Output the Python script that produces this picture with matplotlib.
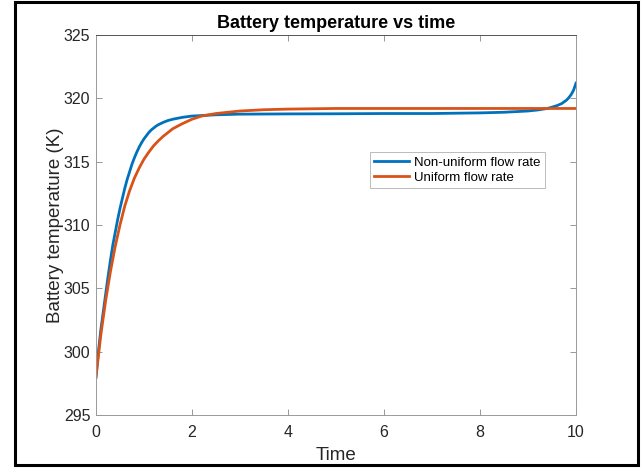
import matplotlib
matplotlib.use('Agg')
import matplotlib.pyplot as plt
from matplotlib.patches import Rectangle

plt.rcParams['font.family'] = ['Liberation Sans', 'DejaVu Sans']

# values
t_nonuni = [0, 0.05, 0.1, 0.15, 0.2, 0.25, 0.3, 0.35, 0.4, 0.45, 0.5, 0.55, 0.6,
            0.65, 0.7, 0.75, 0.8, 0.85, 0.9, 0.95, 1.0, 1.05, 1.1, 1.15, 1.2,
            1.25, 1.3, 1.4, 1.5, 1.6, 1.8, 2.0, 2.5, 3, 4, 5, 6, 7, 8, 8.5, 9,
            9.2, 9.4, 9.5, 9.6, 9.7, 9.8, 9.85, 9.9, 9.95, 10]
T_nonuni = [298.0, 300.0, 301.7, 303.1, 304.5, 305.9, 307.2, 308.4, 309.4, 310.4,
            311.3, 312.1, 312.9, 313.6, 314.2, 314.8, 315.3, 315.75, 316.15, 316.5,
            316.8, 317.05, 317.3, 317.5, 317.65, 317.8, 317.92, 318.1, 318.25,
            318.35, 318.5, 318.6, 318.7, 318.75, 318.77, 318.78, 318.8, 318.8,
            318.85, 318.9, 319.0, 319.08, 319.2, 319.3, 319.42, 319.58, 319.85,
            320.05, 320.3, 320.65, 321.2]

t_uni = [0, 0.1, 0.2, 0.3, 0.4, 0.5, 0.6, 0.7, 0.8, 0.9, 1.0, 1.1, 1.2, 1.3, 1.4,
         1.5, 1.6, 1.8, 2.0, 2.2, 2.5, 3, 3.5, 4, 5, 10]
T_uni = [298.0, 301.3, 304.0, 306.3, 308.3, 310.0, 311.5, 312.7, 313.7, 314.5,
         315.2, 315.75, 316.25, 316.65, 317.0, 317.3, 317.6, 318.0, 318.35, 318.6,
         318.8, 319.0, 319.1, 319.15, 319.2, 319.2]

labels = ['Non-uniform flow rate', 'Uniform flow rate']
colors = ['#0072BD', '#D95319']
xticks = [0, 2, 4, 6, 8, 10]
yticks = [295, 300, 305, 310, 315, 320, 325]

fig = plt.figure(figsize=(6.42, 4.69), dpi=100)
ax = fig.add_axes([0.1495, 0.1151, 0.7477, 0.8103])

ax.plot(t_nonuni, T_nonuni, color=colors[0], linewidth=2, label=labels[0],
        solid_joinstyle='round')
ax.plot(t_uni, T_uni, color=colors[1], linewidth=2, label=labels[1],
        solid_joinstyle='round')

ax.set_xlim(0, 10)
ax.set_ylim(295, 325)
ax.set_xticks(xticks)
ax.set_yticks(yticks)
ax.tick_params(direction='in', top=True, right=True, length=4, width=0.6,
               color='#888888', labelsize=11.5, labelcolor='#262626')
ax.tick_params(axis='x', pad=7)
ax.tick_params(axis='y', pad=4)
for s in ax.spines.values():
    s.set_color('#999999')
    s.set_linewidth(0.7)
ax.spines['top'].set_color('#555555')

ax.set_xlabel('Time', fontsize=13.5, color='#262626', labelpad=5)
ax.set_ylabel('Battery temperature (K)', fontsize=13.5, color='#262626', labelpad=0)
ax.set_title('Battery temperature vs time', fontsize=13, fontweight='bold', pad=5)

leg = ax.legend(loc='upper left', bbox_to_anchor=(0.576, 0.676),
                bbox_transform=fig.transFigure, fontsize=9.5, fancybox=False,
                framealpha=1, edgecolor='#bbbbbb', handlelength=2.6,
                borderaxespad=0, borderpad=0.35, labelspacing=0.2,
                handletextpad=0.4)
leg.get_frame().set_linewidth(0.7)

# black frame around the whole picture
fig.patches.append(Rectangle((0.024, 0.008), 0.97, 0.987, transform=fig.transFigure,
                             fill=False, edgecolor='black', linewidth=2.2))

fig.savefig('out.png', dpi=100)
